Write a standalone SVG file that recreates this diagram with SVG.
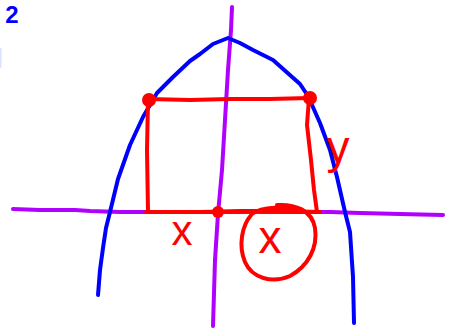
<svg xmlns="http://www.w3.org/2000/svg" width="451" height="328" viewBox="0 0 451 328">
<style>
.ln{fill:none;stroke-linecap:round;stroke-linejoin:round;stroke-width:4}
.axis{stroke:#b000ff}
.curve{stroke:#0000ff}
.red{stroke:#ff0000}
.dot{fill:#ff0000}
.lbl{font-family:"Liberation Sans",Arial,sans-serif;fill:#ff0000}
</style>
<rect width="451" height="328" fill="#ffffff"/>
<g id="axes">
<polyline class="ln axis" points="13,209 40,210 75,210 90,211 120,212 200,212 300,212 330,212 360,213 400,214 443,215"/>
<polyline class="ln axis" points="232,7 231,30 228,70 225,120 222,170 218,214 215,260 213,326"/>
</g>
<g id="parabola">
<polyline class="ln curve" points="98,295 100,270 103,248 106,228 110,212 118,179 130,145 143,117 157,93 173,77 190,61 200,54 213,44 228,38 240,43 253,50 273,60 282,68 300,84 308,96 320,123 330,150 337,177 345,212 350,232 353,277 354,323"/>
<line x1="0.5" y1="48" x2="0.5" y2="68" stroke="#dde2ff" stroke-width="2"/>
</g>
<g id="rectangle">
<polyline class="ln red" points="148,99 190,100 230,99 270,99 309,98"/>
<polyline class="ln red" points="148,100 147,150 148,212"/>
<polyline class="ln red" points="309,98 307,125 311,160 314,190 317,212"/>
<polyline class="ln red" points="146,212 200,212 240,211 280,211 320,212"/>
<circle class="dot" cx="149" cy="100" r="7"/>
<circle class="dot" cx="310" cy="98" r="7"/>
<circle class="dot" cx="218" cy="212" r="6"/>
</g>
<g id="labels">
<text class="lbl" x="182" y="245" font-size="42" text-anchor="middle">x</text>
<path class="ln red" d="M277,205 C295,204 312,210 315,228 C318,248 308,266 290,276 C272,284 252,278 245,262 C238,245 242,225 252,214 C262,206 285,206 302,211"/>
<text class="lbl" x="270" y="253" font-size="46" text-anchor="middle">x</text>
<text class="lbl" x="338" y="163" font-size="46" text-anchor="middle">y</text>
<text x="12" y="23" font-family="Liberation Sans,Arial,sans-serif" font-weight="bold" font-size="24" fill="#0000ff" text-anchor="middle">2</text>
</g>
</svg>
